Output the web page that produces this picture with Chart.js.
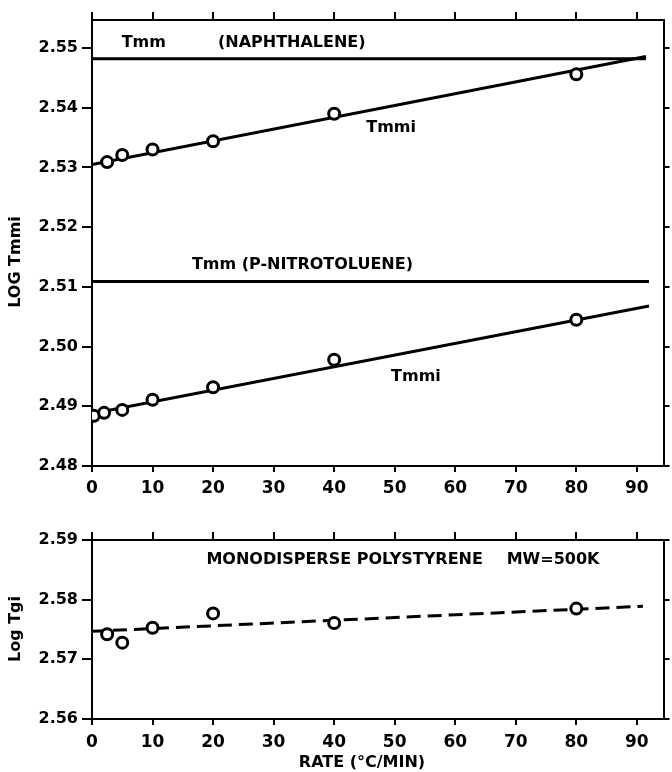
<!DOCTYPE html>
<html>
<head>
<meta charset="utf-8">
<script src="https://cdn.jsdelivr.net/npm/chart.js@4"></script>
<style>
  html, body { margin: 0; padding: 0; background: #fff; }
  #wrap { position: relative; width: 672px; height: 772px; }
  #topChart { position: absolute; left: 0; top: 0; }
  #bottomChart { position: absolute; left: 0; top: 500px; }
</style>
</head>
<body>
<div id="wrap">
  <canvas id="topChart" width="672" height="500"></canvas>
  <canvas id="bottomChart" width="672" height="272"></canvas>
</div>
<script>
// ---- data ----
const xTicks = [0, 10, 20, 30, 40, 50, 60, 70, 80, 90];
const yTicksTop = [2.48, 2.49, 2.50, 2.51, 2.52, 2.53, 2.54, 2.55];
const yTicksBottom = [2.56, 2.57, 2.58, 2.59];

// naphthalene
const naphRates = [2.5, 5, 10, 20, 40, 80];
const naphTmmi = [2.5309, 2.5321, 2.5330, 2.5344, 2.5390, 2.5456];
const naphFitX = [0, 91.5];
const naphFitY = [2.5305, 2.5486];
const naphTmmX = [0, 91.5];
const naphTmmY = [2.5482, 2.5482];

// p-nitrotoluene
const nitroRates = [0.3, 2, 5, 10, 20, 40, 80];
const nitroTmmi = [2.4884, 2.4889, 2.4894, 2.4911, 2.4932, 2.4978, 2.5045];
const nitroFitX = [0, 92];
const nitroFitY = [2.4888, 2.5068];
const nitroTmmX = [0, 92];
const nitroTmmY = [2.5109, 2.5109];

// monodisperse polystyrene
const psRates = [2.5, 5, 10, 20, 40, 80];
const psTgi = [2.5742, 2.5728, 2.5753, 2.5777, 2.5761, 2.5785];
const psFitX = [0, 91];
const psFitY = [2.5747, 2.5789];

const FONT = '"DejaVu Sans", sans-serif';
const toXY = (xs, ys) => xs.map((x, i) => ({ x: x, y: ys[i] }));

function lineSet(xs, ys, dash) {
  return {
    data: toXY(xs, ys),
    borderColor: '#000',
    borderWidth: 3,
    borderDash: dash || [],
    pointRadius: 0,
    fill: false,
    order: 2
  };
}

function pointSet(xs, ys) {
  return {
    data: toXY(xs, ys),
    showLine: false,
    borderColor: '#000',
    backgroundColor: '#fff',
    pointRadius: 5.5,
    pointBorderWidth: 3,
    order: 1
  };
}

function setTicks(values) {
  return function (scale) {
    scale.ticks = values.map(v => ({ value: v }));
  };
}

// text drawn on top of the chart, placed in data coordinates
function notesPlugin(notes, yTitle) {
  return {
    id: 'notes',
    afterDraw(chart) {
      const ctx = chart.ctx;
      const xs = chart.scales.x, ys = chart.scales.y;
      ctx.save();
      ctx.fillStyle = '#000';
      ctx.textBaseline = 'middle';
      ctx.textAlign = 'left';
      notes.forEach(n => {
        ctx.font = 'bold ' + (n.size || 16) + 'px ' + FONT;
        ctx.fillText(n.text, xs.getPixelForValue(n.x), ys.getPixelForValue(n.y));
      });
      // y axis title
      ctx.translate(yTitle.px, yTitle.py);
      ctx.rotate(-Math.PI / 2);
      ctx.textAlign = 'center';
      ctx.font = 'bold 16px ' + FONT;
      ctx.fillText(yTitle.text, 0, 0);
      ctx.restore();
      if (yTitle.xTitle) {
        ctx.save();
        ctx.fillStyle = '#000';
        ctx.textAlign = 'center';
        ctx.textBaseline = 'middle';
        ctx.font = 'bold 16px ' + FONT;
        ctx.fillText(yTitle.xTitle.text, yTitle.xTitle.px, yTitle.xTitle.py);
        ctx.restore();
      }
    }
  };
}

function makeScales(yMin, yMax, yTicks, xLabelPad, xBottomH, xTopH) {
  const axisBorder = { display: true, color: '#000', width: 2 };
  return {
    x: {
      type: 'linear', position: 'bottom', min: 0, max: 94.4,
      afterBuildTicks: setTicks(xTicks),
      afterFit: s => { s.height = xBottomH; },
      border: axisBorder,
      grid: { drawOnChartArea: false, color: '#000', lineWidth: 2, tickLength: 6 },
      ticks: { color: '#000', padding: xLabelPad, maxRotation: 0, font: { family: FONT, size: 17, weight: 'bold' } }
    },
    x2: {
      type: 'linear', position: 'top', min: 0, max: 94.4,
      afterBuildTicks: setTicks(xTicks),
      afterFit: s => { s.height = xTopH; },
      border: axisBorder,
      grid: { drawOnChartArea: false, color: '#000', lineWidth: 2, tickLength: 8 },
      ticks: { display: false }
    },
    y: {
      type: 'linear', position: 'left', min: yMin, max: yMax,
      afterBuildTicks: setTicks(yTicks),
      afterFit: s => { s.width = 92; },
      border: axisBorder,
      grid: { drawOnChartArea: false, color: '#000', lineWidth: 2, tickLength: 10 },
      ticks: { color: '#000', padding: 4, callback: v => v.toFixed(2), font: { family: FONT, size: 16, weight: 'bold' } }
    },
    y2: {
      type: 'linear', position: 'right', min: yMin, max: yMax,
      afterBuildTicks: setTicks(yTicks),
      afterFit: s => { s.width = 7; },
      border: axisBorder,
      grid: { drawOnChartArea: false, color: '#000', lineWidth: 2, tickLength: 6 },
      ticks: { display: false }
    }
  };
}

const baseOptions = {
  responsive: false,
  animation: false,
  events: [],
  layout: { padding: 0 },
  plugins: { legend: { display: false }, tooltip: { enabled: false } }
};

new Chart(document.getElementById('topChart'), {
  type: 'line',
  data: {
    datasets: [
      lineSet(naphTmmX, naphTmmY),
      lineSet(naphFitX, naphFitY),
      lineSet(nitroTmmX, nitroTmmY),
      lineSet(nitroFitX, nitroFitY),
      pointSet(naphRates, naphTmmi),
      pointSet(nitroRates, nitroTmmi)
    ]
  },
  options: Object.assign({}, baseOptions, {
    scales: makeScales(2.48, 2.5547, yTicksTop, 6, 34, 20)
  }),
  plugins: [notesPlugin([
    { text: 'Tmm', x: 4.9, y: 2.5509 },
    { text: '(NAPHTHALENE)', x: 20.8, y: 2.5509 },
    { text: 'Tmmi', x: 45.3, y: 2.5366 },
    { text: 'Tmm (P-NITROTOLUENE)', x: 16.5, y: 2.5137 },
    { text: 'Tmmi', x: 49.4, y: 2.4949 }
  ], { text: 'LOG Tmmi', px: 16, py: 262 })]
});

new Chart(document.getElementById('bottomChart'), {
  type: 'line',
  data: {
    datasets: [
      lineSet(psFitX, psFitY, [14, 7]),
      pointSet(psRates, psTgi)
    ]
  },
  options: Object.assign({}, baseOptions, {
    scales: makeScales(2.56, 2.59, yTicksBottom, 7, 53, 40)
  }),
  plugins: [notesPlugin([
    { text: 'MONODISPERSE POLYSTYRENE', x: 18.9, y: 2.5866 },
    { text: 'MW=500K', x: 68.5, y: 2.5866 }
  ], { text: 'Log Tgi', px: 16, py: 129, xTitle: { text: 'RATE (°C/MIN)', px: 362, py: 263 } })]
});
</script>
</body>
</html>
